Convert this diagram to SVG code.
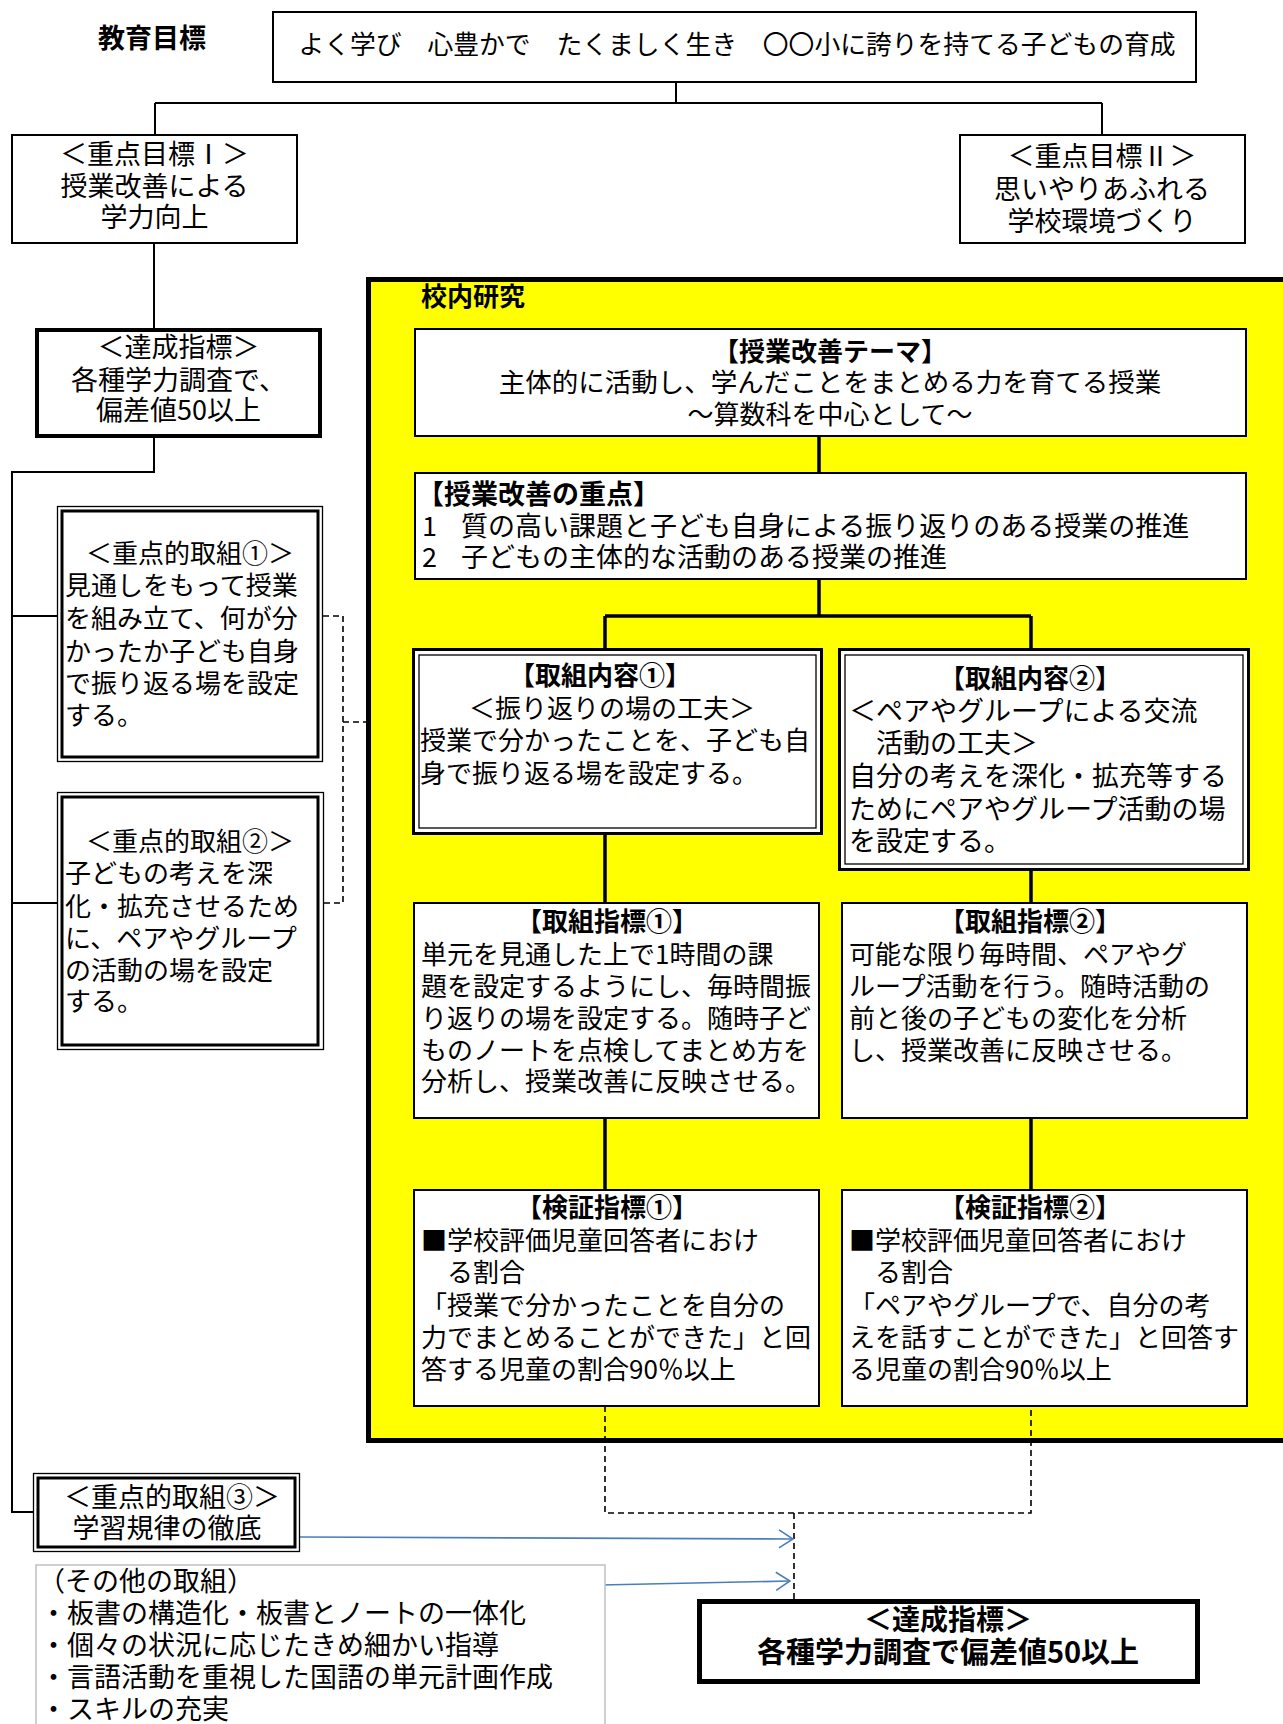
<svg xmlns="http://www.w3.org/2000/svg" width="1283" height="1724" viewBox="0 0 1283 1724">
<defs>
<style>
.t{font-family:"Noto Sans CJK JP","Noto Sans CJK SC",sans-serif;font-size:26px;fill:#000}
.b{font-weight:bold}
.c{text-anchor:middle}
.box{fill:#fff;stroke:#000;stroke-width:2}
.bx1{fill:none;stroke:#000;stroke-width:1.3}
.bx3{fill:none;stroke:#000;stroke-width:3}
.wf{fill:#fff}
.ln{stroke:#000;stroke-width:2;fill:none}
.thk{stroke:#000;stroke-width:3.5;fill:none}
.dash{stroke:#000;stroke-width:1.6;stroke-dasharray:6 4;fill:none}
.arr{stroke:#4a7ebb;stroke-width:1.6;fill:none}
</style>
<marker id="chev" viewBox="0 0 16 20" markerWidth="16" markerHeight="20" refX="15" refY="10" orient="auto" markerUnits="userSpaceOnUse">
<path d="M1,1 L15,10 L1,19" fill="none" stroke="#4a7ebb" stroke-width="1.6"/>
</marker>
</defs>
<rect width="1283" height="1724" fill="#fff"/>

<g id="n-research">
<rect x="368.5" y="279.5" width="1000" height="1161" fill="#ffff00" stroke="#000" stroke-width="5"/>
<text class="t b" x="421" y="306">校内研究</text>
</g>

<g id="connectors">
<path class="ln" d="M676,82 V103 M155,103 H1102 M155,103 V135 M1102,103 V135"/>
<path class="ln" d="M154,243 V328"/>
<path class="ln" d="M154,438 V472 H12 V1512 H33 M12,616 H57 M12,903 H57"/>
<path class="dash" d="M323,616 H343 V903 H324 M343,722 H366"/>
<path class="thk" d="M819,436 V473 M819,579 V616 M605,616 H1031 M605,616 V649 M1031,616 V649"/>
<path class="thk" d="M605,834 V903 M1031,870 V903 M605,1118 V1190 M1031,1118 V1190"/>
<path class="dash" d="M605,1406 V1513 H1031 V1406 M794,1513 V1599"/>
<path class="arr" d="M300,1537 L793,1539" marker-end="url(#chev)"/>
<path class="arr" d="M601,1585 L790,1581" marker-end="url(#chev)"/>
</g>

<g id="n-goal-label">
<text class="t b" x="98" y="48" style="font-size:27px">教育目標</text>
</g>

<g id="n-goal">
<rect class="box" x="273" y="12" width="923" height="70"/>
<text class="t c" x="737" y="54" style="font-size:25.8px">よく学び　心豊かで　たくましく生き　〇〇小に誇りを持てる子どもの育成</text>
</g>

<g id="n-key1">
<rect class="box" x="12" y="135" width="285" height="108"/>
<text class="t c" x="154.5" y="164" style="font-size:27px">＜重点目標Ⅰ＞</text>
<text class="t c" x="154.5" y="196" style="font-size:27px">授業改善による</text>
<text class="t c" x="154.5" y="227" style="font-size:27px">学力向上</text>
</g>

<g id="n-key2">
<rect class="box" x="960" y="135" width="285" height="108"/>
<text class="t c" x="1102" y="166" style="font-size:27px">＜重点目標Ⅱ＞</text>
<text class="t c" x="1102" y="199" style="font-size:27px">思いやりあふれる</text>
<text class="t c" x="1102" y="231" style="font-size:27px">学校環境づくり</text>
</g>

<g id="n-target1">
<rect x="37" y="330" width="283" height="106" fill="#fff" stroke="#000" stroke-width="4"/>
<text class="t c" x="178.5" y="357" style="font-size:27px">＜達成指標＞</text>
<text class="t c" x="178.5" y="390" style="font-size:27px">各種学力調査で、</text>
<text class="t c" x="178.5" y="420" style="font-size:27px">偏差値50以上</text>
</g>

<g id="n-effort1">
<rect class="bx1 wf" x="57.5" y="506.5" width="265" height="255"/>
<rect class="bx3" x="62" y="511" width="256" height="246"/>
<text class="t c" x="190" y="563">＜重点的取組①＞</text>
<text class="t" x="65" y="595">見通しをもって授業</text>
<text class="t" x="65" y="628">を組み立て、何が分</text>
<text class="t" x="65" y="661">かったか子ども自身</text>
<text class="t" x="65" y="693">で振り返る場を設定</text>
<text class="t" x="65" y="725">する。</text>
</g>

<g id="n-effort2">
<rect class="bx1 wf" x="57.5" y="792.5" width="266" height="257"/>
<rect class="bx3" x="62" y="797" width="256" height="248"/>
<text class="t c" x="190" y="851">＜重点的取組②＞</text>
<text class="t" x="65" y="883">子どもの考えを深</text>
<text class="t" x="65" y="916">化・拡充させるため</text>
<text class="t" x="65" y="948">に、ペアやグループ</text>
<text class="t" x="65" y="980">の活動の場を設定</text>
<text class="t" x="65" y="1011">する。</text>
</g>

<g id="n-effort3">
<rect class="bx1 wf" x="33.5" y="1473.5" width="266" height="78"/>
<rect class="bx3" x="38" y="1478" width="257" height="69"/>
<text class="t c" x="172" y="1507" style="font-size:27px">＜重点的取組③＞</text>
<text class="t c" x="167" y="1538" style="font-size:27px">学習規律の徹底</text>
</g>

<g id="n-others">
<rect x="36" y="1565" width="569" height="200" fill="#fff" stroke="#c0c0c0" stroke-width="1.5"/>
<text class="t" x="38" y="1591" style="font-size:27px">（その他の取組）</text>
<text class="t" x="40" y="1623" style="font-size:27px">・板書の構造化・板書とノートの一体化</text>
<text class="t" x="40" y="1655" style="font-size:27px">・個々の状況に応じたきめ細かい指導</text>
<text class="t" x="40" y="1687" style="font-size:27px">・言語活動を重視した国語の単元計画作成</text>
<text class="t" x="40" y="1719" style="font-size:27px">・スキルの充実</text>
</g>

<g id="n-target2">
<rect x="699.5" y="1601.5" width="498" height="80" fill="#fff" stroke="#000" stroke-width="5"/>
<text class="t c b" x="948" y="1630" style="font-size:28px">＜達成指標＞</text>
<text class="t c b" x="948" y="1663" style="font-size:29px">各種学力調査で偏差値50以上</text>
</g>

<g id="n-theme">
<rect class="box" x="415" y="329" width="831" height="107"/>
<text class="t c b" x="830" y="361">【授業改善テーマ】</text>
<text class="t c" x="830" y="392" style="font-size:26.5px">主体的に活動し、学んだことをまとめる力を育てる授業</text>
<text class="t c" x="830" y="424">～算数科を中心として～</text>
</g>

<g id="n-focus">
<rect class="box" x="415" y="473" width="831" height="106"/>
<text class="t b" x="417" y="504" style="font-size:27px">【授業改善の重点】</text>
<text class="t" x="422" y="536" style="font-size:27px">1</text>
<text class="t" x="461" y="536" style="font-size:27px">質の高い課題と子ども自身による振り返りのある授業の推進</text>
<text class="t" x="422" y="567" style="font-size:27px">2</text>
<text class="t" x="461" y="567" style="font-size:27px">子どもの主体的な活動のある授業の推進</text>
</g>

<g id="n-content1">
<rect class="bx3 wf" x="413.5" y="649.5" width="408" height="184"/>
<rect class="bx1" x="419" y="655" width="397" height="173"/>
<text class="t c b" x="600" y="685">【取組内容①】</text>
<text class="t c" x="612" y="718">＜振り返りの場の工夫＞</text>
<text class="t" x="420" y="750">授業で分かったことを、子ども自</text>
<text class="t" x="420" y="783">身で振り返る場を設定する。</text>
</g>

<g id="n-content2">
<rect class="bx3 wf" x="839.5" y="649.5" width="409" height="220"/>
<rect class="bx1" x="845" y="655" width="398" height="209"/>
<text class="t c b" x="1030" y="688">【取組内容②】</text>
<text class="t" x="849" y="721" style="font-size:27px">＜ペアやグループによる交流</text>
<text class="t" x="849" y="753" style="font-size:27px">　活動の工夫＞</text>
<text class="t" x="849" y="786" style="font-size:27px">自分の考えを深化・拡充等する</text>
<text class="t" x="849" y="819" style="font-size:27px">ためにペアやグループ活動の場</text>
<text class="t" x="849" y="851" style="font-size:27px">を設定する。</text>
</g>

<g id="n-index1">
<rect class="box" x="414" y="903" width="405" height="215"/>
<text class="t c b" x="607" y="931">【取組指標①】</text>
<text class="t" x="421" y="964">単元を見通した上で1時間の課</text>
<text class="t" x="421" y="996">題を設定するようにし、毎時間振</text>
<text class="t" x="421" y="1028">り返りの場を設定する。随時子ど</text>
<text class="t" x="421" y="1060">ものノートを点検してまとめ方を</text>
<text class="t" x="421" y="1091">分析し、授業改善に反映させる。</text>
</g>

<g id="n-index2">
<rect class="box" x="842" y="903" width="405" height="215"/>
<text class="t c b" x="1030" y="931">【取組指標②】</text>
<text class="t" x="849" y="964">可能な限り毎時間、ペアやグ</text>
<text class="t" x="849" y="996">ループ活動を行う。随時活動の</text>
<text class="t" x="849" y="1028">前と後の子どもの変化を分析</text>
<text class="t" x="849" y="1060">し、授業改善に反映させる。</text>
</g>

<g id="n-verify1">
<rect class="box" x="414" y="1190" width="405" height="216"/>
<text class="t c b" x="607" y="1217">【検証指標①】</text>
<text class="t" x="421" y="1250">■学校評価児童回答者におけ</text>
<text class="t" x="421" y="1282">　る割合</text>
<text class="t" x="421" y="1315">「授業で分かったことを自分の</text>
<text class="t" x="421" y="1347">力でまとめることができた」と回</text>
<text class="t" x="421" y="1379">答する児童の割合90％以上</text>
</g>

<g id="n-verify2">
<rect class="box" x="842" y="1190" width="405" height="216"/>
<text class="t c b" x="1030" y="1217">【検証指標②】</text>
<text class="t" x="849" y="1250">■学校評価児童回答者におけ</text>
<text class="t" x="849" y="1282">　る割合</text>
<text class="t" x="849" y="1315">「ペアやグループで、自分の考</text>
<text class="t" x="849" y="1347">えを話すことができた」と回答す</text>
<text class="t" x="849" y="1379">る児童の割合90％以上</text>
</g>
</svg>
